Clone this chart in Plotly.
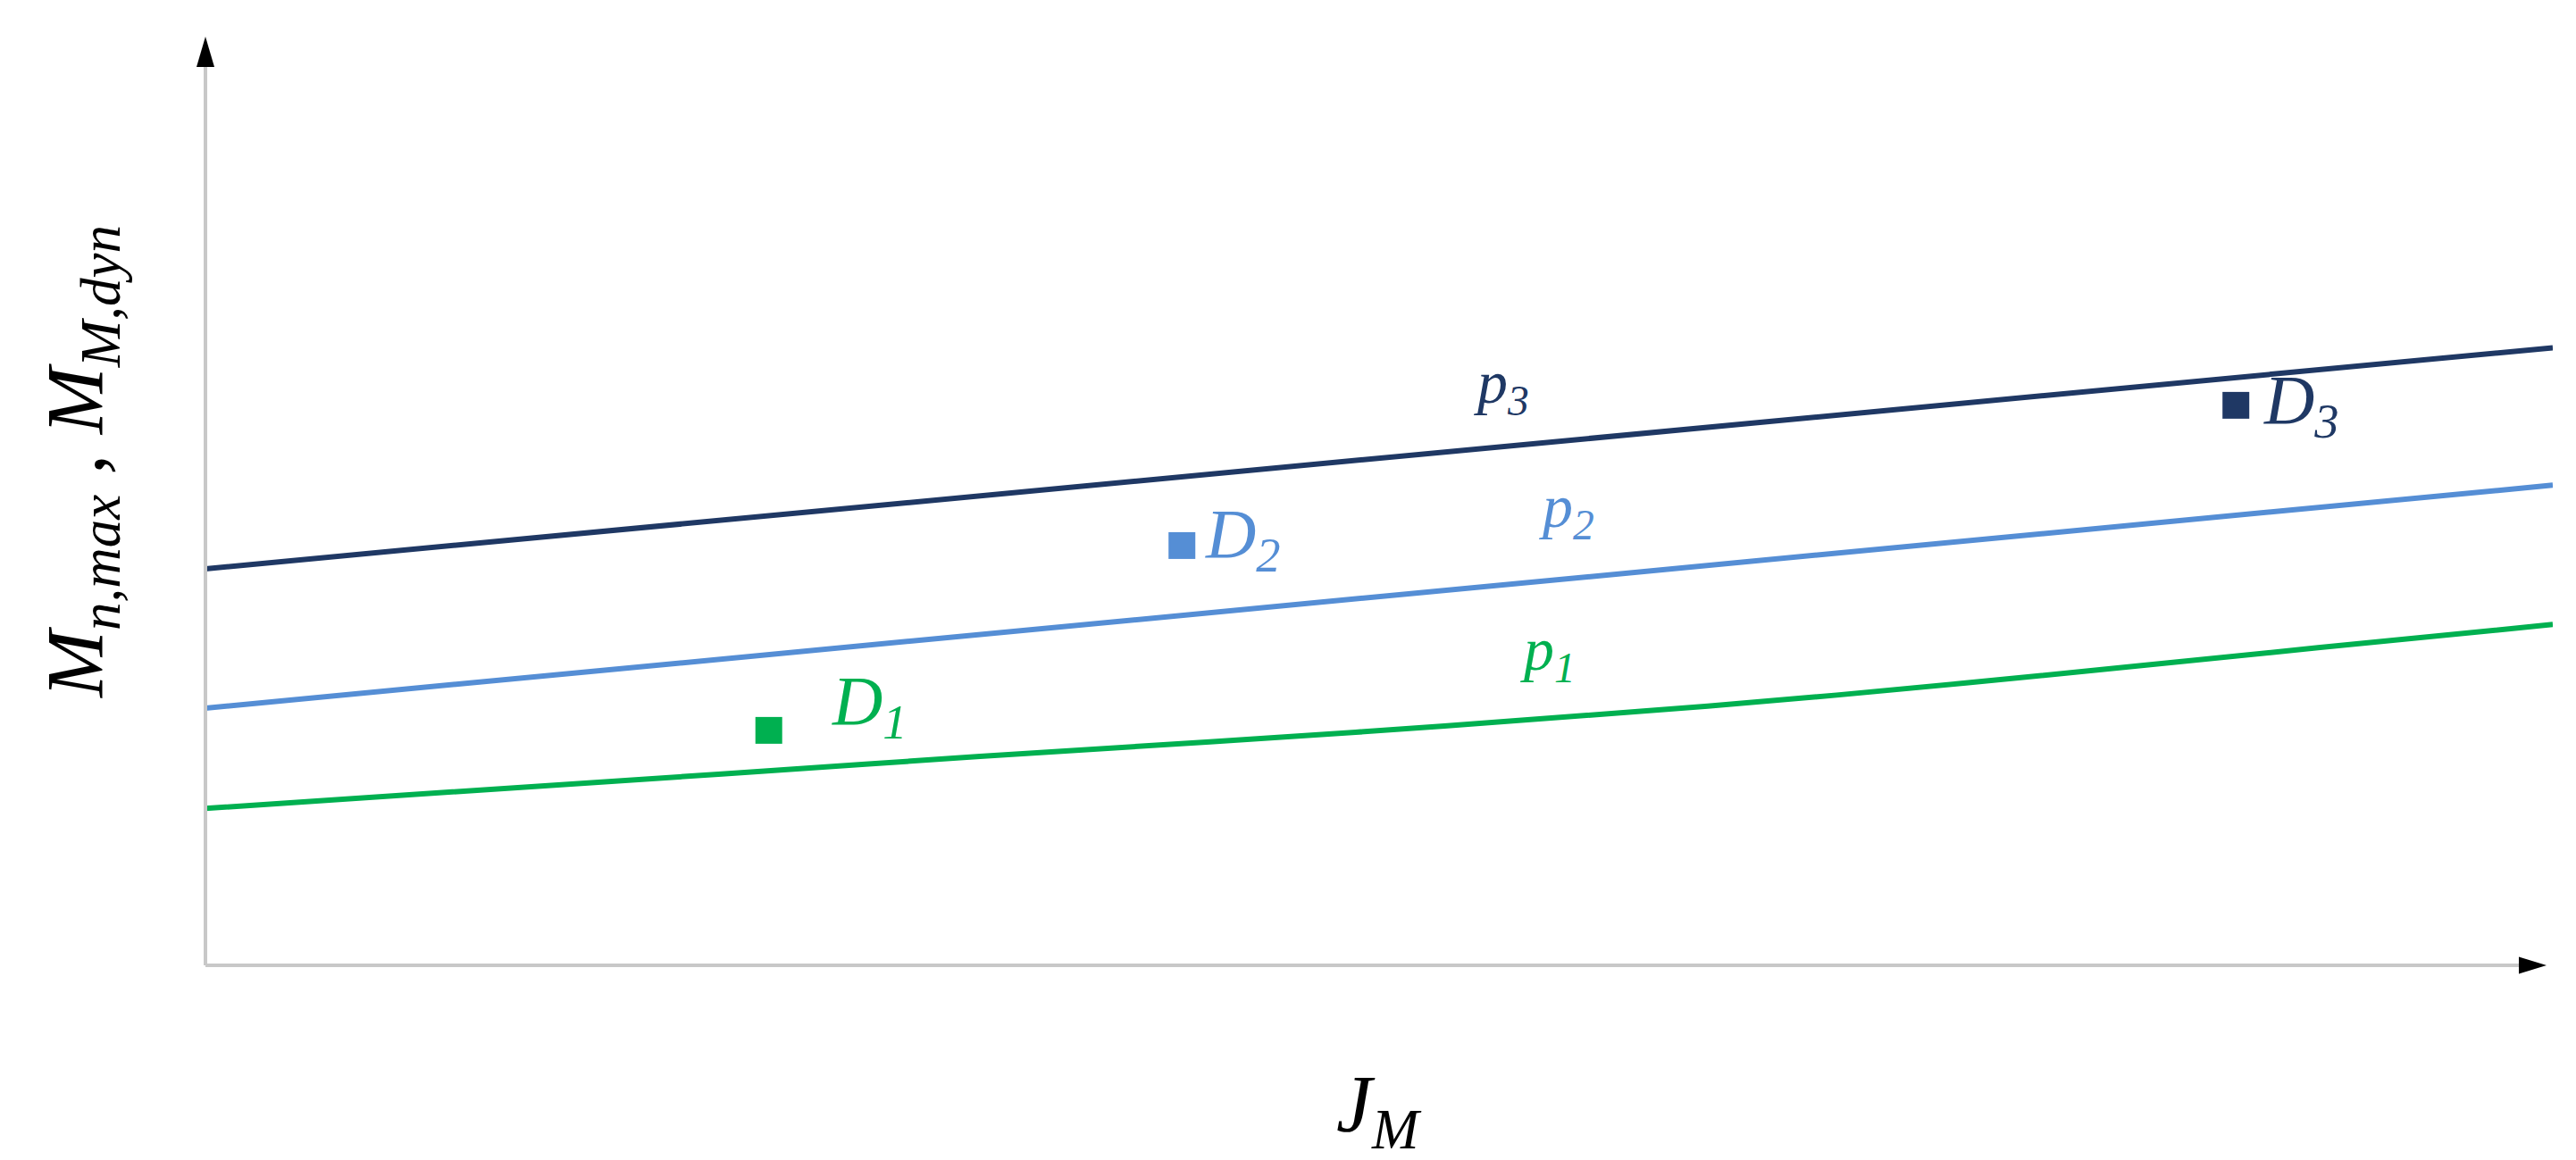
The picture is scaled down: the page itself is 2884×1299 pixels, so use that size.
"""Schematic: M_n,max / M_M,dyn against J_M, three p-lines and design points."""
import plotly.graph_objects as go

# Data (arbitrary units, x 0..100 along J_M, y 0..100 along M)
P_NAMES = ["p1", "p2", "p3"]
P_COLORS = ["#00B050", "#558ED5", "#1F3864"]

P1_X = [0, 22, 33, 49, 64, 75, 90, 100]
P1_Y = [16.9, 20.6, 22.5, 25.1, 27.9, 30.4, 34.2, 36.7]
P2_X = [0, 100]
P2_Y = [27.7, 51.7]
P3_X = [0, 100]
P3_Y = [42.7, 66.5]

D_NAMES = ["D1", "D2", "D3"]
D_X = [24.0, 41.6, 86.5]
D_Y = [25.3, 45.2, 60.3]

# label anchors (data units)
D_LABEL_X = [26.6, 42.5, 87.6]
D_LABEL_Y = [28.0, 46.0, 60.4]
P_LABEL_X = [57.2, 58.0, 55.2]
P_LABEL_Y = [33.6, 49.0, 62.4]

FONT = "Liberation Serif"
AXIS_GRAY = "#c8c8c8"

W, H = 2884, 1299
M_L, M_R, M_T, M_B = 222, 34, 33, 226
PW, PH = W - M_L - M_R, H - M_T - M_B


def px_x(px):
    """Pixel offset from plot left -> paper fraction."""
    return px / PW


def px_y(px):
    return px / PH


fig = go.Figure()

for name, color, xs, ys in zip(P_NAMES, P_COLORS, [P1_X, P2_X, P3_X], [P1_Y, P2_Y, P3_Y]):
    fig.add_trace(
        go.Scatter(
            x=xs,
            y=ys,
            name=name,
            mode="lines",
            line=dict(color=color, width=6, shape="spline", smoothing=1.0),
            showlegend=False,
        )
    )

for name, color, x, y in zip(D_NAMES, P_COLORS, D_X, D_Y):
    fig.add_trace(
        go.Scatter(
            x=[x],
            y=[y],
            name=name,
            mode="markers",
            marker=dict(symbol="square", size=30, color=color),
            showlegend=False,
        )
    )

annotations = []
for name, color, x, y in zip(D_NAMES, P_COLORS, D_LABEL_X, D_LABEL_Y):
    annotations.append(dict(
        x=x, y=y, xref="x", yref="y", xanchor="left", yanchor="middle",
        text=f"<i>{name[0]}<sub>{name[1:]}</sub></i>", showarrow=False,
        font=dict(family=FONT, size=78, color=color),
    ))
for name, color, x, y in zip(P_NAMES, P_COLORS, P_LABEL_X, P_LABEL_Y):
    annotations.append(dict(
        x=x, y=y, xref="x", yref="y", xanchor="center", yanchor="middle",
        text=f"<i>{name[0]}<sub>{name[1:]}</sub></i>", showarrow=False,
        font=dict(family=FONT, size=68, color=color),
    ))

# axis titles
annotations.append(dict(
    x=0.5, y=-px_y(162), xref="paper", yref="paper", xanchor="center", yanchor="middle",
    text="<i>J<sub>M</sub></i>", showarrow=False,
    font=dict(family=FONT, size=90, color="black"),
))
annotations.append(dict(
    x=-px_x(138), y=1 - px_y(477), xref="paper", yref="paper", xanchor="center", yanchor="middle",
    text="<i>M<sub>n,max</sub> , M<sub>M,dyn</sub></i>", textangle=-90, showarrow=False,
    font=dict(family=FONT, size=90, color="black"),
))

shapes = [
    # x axis line + arrowhead
    dict(type="line", xref="paper", yref="paper", x0=0, y0=0, x1=px_x(2590), y1=0,
         line=dict(color=AXIS_GRAY, width=4)),
    dict(type="path", xref="paper", yref="paper", fillcolor="black", line=dict(width=0),
         path=f"M {px_x(2621)} 0 L {px_x(2590)} {px_y(9.5)} L {px_x(2590)} {-px_y(9.5)} Z"),
    # y axis line + arrowhead
    dict(type="line", xref="paper", yref="paper", x0=0, y0=0, x1=0, y1=px_y(1006),
         line=dict(color=AXIS_GRAY, width=4)),
    dict(type="path", xref="paper", yref="paper", fillcolor="black", line=dict(width=0),
         path=f"M 0 1 L {-px_x(10)} {px_y(1006)} L {px_x(10)} {px_y(1006)} Z"),
]

fig.update_layout(
    width=W,
    height=H,
    margin=dict(l=M_L, r=M_R, t=M_T, b=M_B),
    paper_bgcolor="white",
    plot_bgcolor="white",
    xaxis=dict(range=[0, 100], visible=False),
    yaxis=dict(range=[0, 100], visible=False),
    annotations=annotations,
    shapes=shapes,
    showlegend=False,
)

fig.write_html("out.html")
